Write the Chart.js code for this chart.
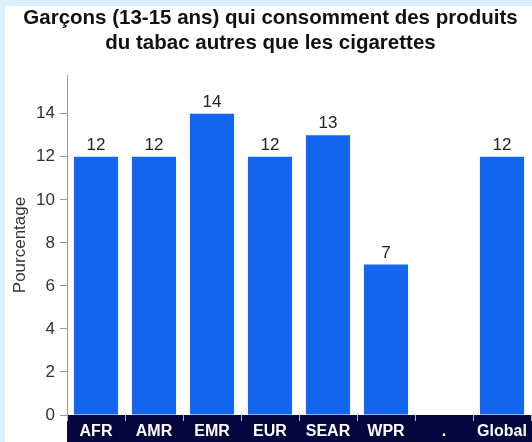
<!DOCTYPE html>
<html>
<head>
<meta charset="utf-8">
<script src="https://cdn.jsdelivr.net/npm/chart.js@4"></script>
<style>
  html, body { margin: 0; padding: 0; background: #dcf0fc; }
  #wrap { position: absolute; left: 5px; top: 6px; width: 527px; height: 436px; background: #fff; }
</style>
</head>
<body>
<div id="wrap"><canvas id="chart"></canvas></div>
<script>
const REGIONS = ['AFR', 'AMR', 'EMR', 'EUR', 'SEAR', 'WPR', '.', 'Global'];
const VALUES = [12, 12, 14, 12, 13, 7, null, 12];
const Y_TICKS = [0, 2, 4, 6, 8, 10, 12, 14];

const BAR = '#1466ee';
const NAVY = '#06063e';
const FONT = '"Liberation Sans", Arial, sans-serif';

// navy band behind the category labels
const bandPlugin = {
  id: 'band',
  beforeDraw(chart) {
    const { ctx, chartArea, width, height } = chart;
    ctx.save();
    ctx.fillStyle = NAVY;
    ctx.fillRect(chartArea.left, chartArea.bottom, width - chartArea.left, height - chartArea.bottom);
    ctx.restore();
  }
};

// value labels above the bars
const valuePlugin = {
  id: 'values',
  afterDatasetsDraw(chart) {
    const { ctx } = chart;
    const meta = chart.getDatasetMeta(0);
    ctx.save();
    ctx.font = '17px ' + FONT;
    ctx.fillStyle = '#222';
    ctx.textAlign = 'center';
    ctx.textBaseline = 'bottom';
    meta.data.forEach((bar, i) => {
      const v = VALUES[i];
      if (v == null) return;
      ctx.fillText(String(v), bar.x, bar.y - 3);
    });
    ctx.restore();
  }
};

new Chart(document.getElementById('chart'), {
  type: 'bar',
  data: {
    labels: REGIONS,
    datasets: [{
      data: VALUES,
      backgroundColor: BAR,
      borderWidth: 0,
      barPercentage: 0.76,
      categoryPercentage: 1
    }]
  },
  options: {
    responsive: true,
    maintainAspectRatio: false,
    animation: false,
    layout: { padding: { left: 5, right: 1, top: 0, bottom: 0 } },
    plugins: {
      legend: { display: false },
      tooltip: { enabled: false },
      title: {
        display: true,
        text: ['Garçons (13-15 ans) qui consomment des produits', 'du tabac autres que les cigarettes'],
        color: '#111',
        font: { family: FONT, size: 20.5, weight: 'bold', lineHeight: 1.22 },
        padding: { top: 0, bottom: 19 }
      }
    },
    scales: {
      x: {
        grid: { display: true, drawOnChartArea: false, color: '#bbb', tickLength: 6, offset: true },
        border: { display: false },
        ticks: {
          color: '#fff',
          padding: 1,
          font: { family: FONT, size: 16, weight: 'bold' }
        },
        afterFit(scale) { scale.height = 27; }
      },
      y: {
        min: 0,
        max: 15.8,
        afterBuildTicks(scale) { scale.ticks = Y_TICKS.map(v => ({ value: v })); },
        grid: { display: true, drawOnChartArea: false, color: '#999', tickLength: 7 },
        border: { display: true, color: '#999' },
        ticks: {
          color: '#333',
          padding: 5,
          font: { family: FONT, size: 17 }
        },
        title: {
          display: true,
          text: 'Pourcentage',
          color: '#333',
          font: { family: FONT, size: 17 },
          padding: { top: 0, bottom: 0 }
        },
        afterFit(scale) { scale.width = 57; }
      }
    }
  },
  plugins: [bandPlugin, valuePlugin]
});
</script>
</body>
</html>
